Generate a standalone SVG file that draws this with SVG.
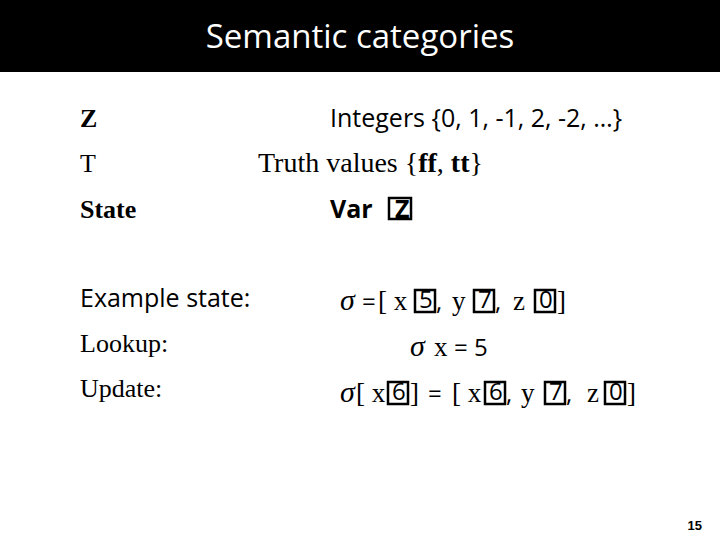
<svg xmlns="http://www.w3.org/2000/svg" width="720" height="540" viewBox="0 0 720 540">
<style>
.s{font-family:"Open Sans","Liberation Sans",sans-serif;font-size:25px;fill:#000}
.r{font-family:"Liberation Serif",serif;font-size:26px;fill:#000}
.g{font-family:"Liberation Serif",serif;font-size:30px;font-style:italic;fill:#000}
.c{font-family:"Liberation Serif",serif;font-size:27px;fill:#000}
.d{font-family:"Open Sans","Liberation Sans",sans-serif;font-size:24px;fill:#000}
.t{font-family:"Liberation Serif",serif;font-size:28px;fill:#000}
.b{stroke:#000;stroke-width:2.5;fill:none}
</style>
<rect x="0" y="0" width="720" height="72" fill="#000"/>
<text x="360" y="48" text-anchor="middle" font-family="Open Sans, Liberation Sans, sans-serif" font-size="33" fill="#fff">Semantic categories</text>
<text x="80" y="127" class="r" font-weight="bold">Z</text>
<text x="330" y="127" class="s">Integers {0, 1, -1, 2, -2, …}</text>
<text x="80" y="172" class="r">T</text>
<text x="258" y="172" class="t">Truth values {<tspan font-weight="bold">ff</tspan>, <tspan font-weight="bold">tt</tspan>}</text>
<text x="80" y="218" class="r" font-weight="bold">State</text>
<text x="330" y="218" class="s" font-weight="bold">Var</text>
<text x="395" y="218" class="s" font-weight="bold">Z</text>
<rect x="389" y="198" width="22" height="21" class="b"/>
<text x="80" y="307" class="s">Example state:</text>
<g id="example">
<text x="340" y="310" class="g">σ</text>
<text x="362" y="310" class="d">=</text>
<text x="378" y="310" class="c">[ x</text>
<text x="419" y="308" class="d">5</text><rect x="415" y="290" width="20" height="22" class="b"/>
<text x="436" y="310" class="d">,</text>
<text x="452" y="310" class="c">y</text>
<text x="478" y="308" class="d">7</text><rect x="474" y="290" width="20" height="22" class="b"/>
<text x="495" y="310" class="d">,</text>
<text x="513" y="310" class="c">z</text>
<text x="539" y="308" class="d">0</text><rect x="535" y="290" width="20" height="22" class="b"/>
<text x="557" y="310" class="c">]</text>
</g>
<text x="80" y="352" class="r">Lookup:</text>
<g id="lookup">
<text x="410" y="356" class="g">σ</text>
<text x="434" y="356" class="c">x</text>
<text x="454" y="356" class="d">= 5</text>
</g>
<text x="80" y="397" class="r">Update:</text>
<g id="update">
<text x="340" y="402" class="g">σ</text>
<text x="356" y="402" class="c">[ x</text>
<text x="392" y="400" class="d">6</text><rect x="388" y="382" width="20" height="22" class="b"/>
<text x="410" y="402" class="c">]</text>
<text x="428" y="402" class="d">=</text>
<text x="452" y="402" class="c">[ x</text>
<text x="489" y="400" class="d">6</text><rect x="485" y="382" width="20" height="22" class="b"/>
<text x="506" y="402" class="d">,</text>
<text x="521" y="402" class="c">y</text>
<text x="549" y="400" class="d">7</text><rect x="545" y="382" width="20" height="22" class="b"/>
<text x="566" y="402" class="d">,</text>
<text x="587" y="402" class="c">z</text>
<text x="609" y="400" class="d">0</text><rect x="605" y="382" width="20" height="22" class="b"/>
<text x="627" y="402" class="c">]</text>
</g>
<text x="702" y="530" text-anchor="end" font-family="Liberation Sans, sans-serif" font-size="13" font-weight="bold">15</text>
</svg>
